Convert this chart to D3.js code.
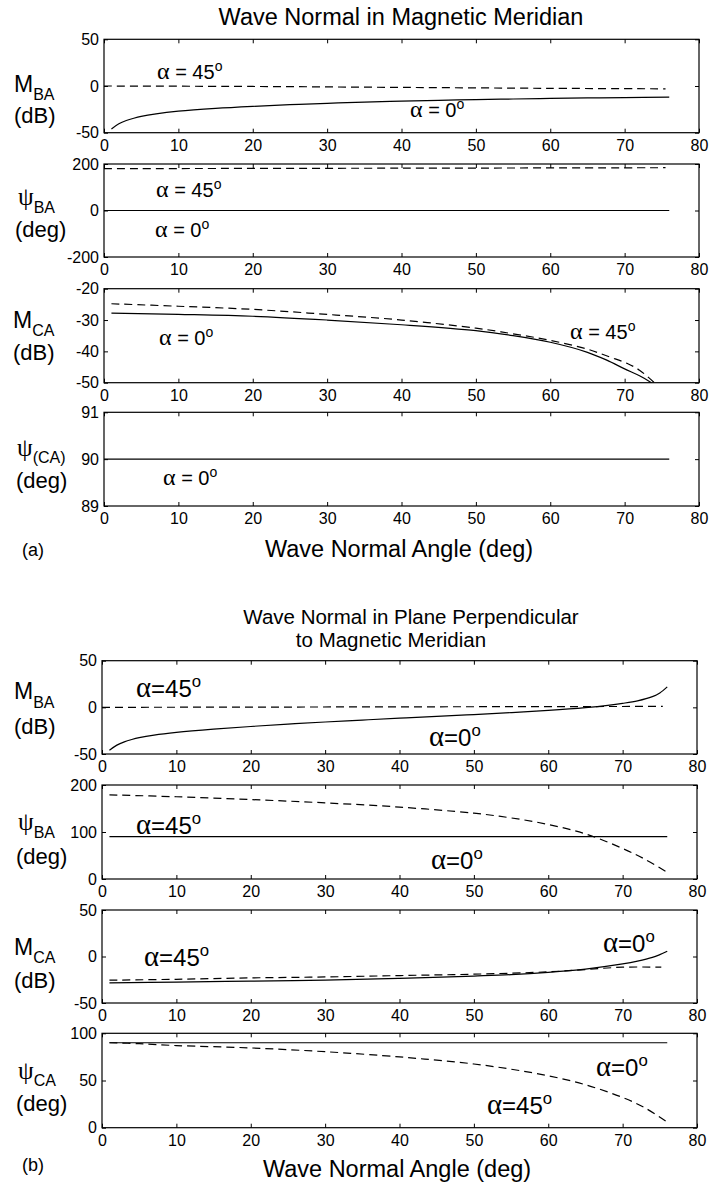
<!DOCTYPE html>
<html>
<head>
<meta charset="utf-8">
<script src="https://cdn.jsdelivr.net/npm/d3@7"></script>
<style>
  html, body { margin: 0; padding: 0; background: #fff; }
  svg { display: block; }
  text { font-family: "Liberation Sans", Arial, Helvetica, sans-serif; fill: #000; }
  .greek { font-family: "Liberation Serif", "Times New Roman", serif; }
</style>
</head>
<body>
<svg id="chart" width="709" height="1182"></svg>
<script>
// ---------------- DATA ----------------
const angleTicks = [0, 10, 20, 30, 40, 50, 60, 70, 80];
const angleDomain = [0, 80];

// (a) Wave normal in magnetic meridian
// M_BA (dB)
const aMBA0_x = [1, 2, 3, 4, 5, 7, 10, 15, 20, 25, 30, 35, 40, 45, 50, 55, 60, 65, 70, 76];
const aMBA0_y = [-46, -40.5, -37, -34.5, -32.5, -29.8, -27, -24, -21.8, -20, -18.5, -17.2, -16.2, -15.3, -14.5, -13.9, -13.3, -12.8, -12.4, -12];
const aMBA45_x = [0, 20, 40, 60, 75.5];
const aMBA45_y = [0, -0.5, -1.5, -2.5, -3];
const aMBA_ticks = [-50, 0, 50];
// psi_BA (deg)
const aPBA0_x = [0, 76];
const aPBA0_y = [0, 0];
const aPBA45_x = [0, 40, 75.5];
const aPBA45_y = [180, 182, 184];
const aPBA_ticks = [-200, 0, 200];
// M_CA (dB)
const aMCA0_x = [1, 10, 20, 30, 40, 50, 55, 60, 65, 67.6, 70, 72, 73.6];
const aMCA0_y = [-27.8, -28.2, -28.8, -30, -31.5, -33.4, -35, -37.1, -40.3, -42.8, -45.6, -47.8, -50];
const aMCA45_x = [1, 10, 20, 30, 40, 50, 55, 60, 65, 68, 70.3, 72, 74];
const aMCA45_y = [-24.8, -25.6, -26.6, -28.2, -30, -32.6, -34.4, -36.5, -39.3, -41.8, -43.8, -46, -50];
const aMCA_ticks = [-50, -40, -30, -20];
// psi_(CA) (deg)
const aPCA0_x = [0, 76];
const aPCA0_y = [90, 90];
const aPCA_ticks = [89, 90, 91];

// (b) Wave normal in plane perpendicular to magnetic meridian
// M_BA (dB)
const bMBA0_x = [1, 2, 3, 4, 5, 7, 10, 15, 20, 25, 30, 35, 40, 45, 50, 55, 60, 65, 68, 70, 72, 74, 75, 76];
const bMBA0_y = [-46, -40.5, -37, -34.5, -32.5, -29.7, -26.8, -23.3, -20.5, -18, -15.7, -13.6, -11.6, -9.7, -7.7, -5.6, -3.2, -0.2, 2.2, 4.3, 7, 11.5, 15.5, 22];
const bMBA45_x = [0, 75.4];
const bMBA45_y = [0, 1];
const bMBA_ticks = [-50, 0, 50];
// psi_BA (deg)
const bPBA45_x = [1, 76];
const bPBA45_y = [90, 90];
const bPBA0_x = [1, 10, 20, 30, 40, 50, 55, 60, 65, 70, 73, 76];
const bPBA0_y = [179, 175, 169, 162, 153, 140, 130, 116, 96, 65, 42, 14];
const bPBA_ticks = [0, 100, 200];
// M_CA (dB)
const bMCA0_x = [1, 10, 20, 30, 40, 50, 55, 60, 65, 70, 72, 74, 75, 76];
const bMCA0_y = [-28.4, -27.5, -26.5, -25.5, -23.5, -21, -19.5, -17, -13.5, -8, -5, -1, 2, 5.6];
const bMCA45_x = [1, 10, 20, 30, 40, 50, 60, 65, 70, 75.2];
const bMCA45_y = [-25.5, -24.5, -23, -22, -20.5, -19, -16.5, -14, -11.5, -11.5];
const bMCA_ticks = [-50, 0, 50];
// psi_CA (deg)
const bPCA0_x = [1, 76];
const bPCA0_y = [90, 90];
const bPCA45_x = [1, 5, 10, 20, 30, 40, 45, 50, 55, 60, 65, 70, 73, 76];
const bPCA45_y = [90, 89, 87, 84.5, 80.5, 75, 71.5, 67.5, 62, 55, 45.5, 32, 21, 6];
const bPCA_ticks = [0, 50, 100];

// Text
const titleA = "Wave Normal in Magnetic Meridian";
const titleB1 = "Wave Normal in Plane Perpendicular";
const titleB2 = "to Magnetic Meridian";
const xTitle = "Wave Normal Angle (deg)";

// ---------------- DRAWING ----------------
const svg = d3.select("#chart");
const zip = (xs, ys) => xs.map((x, i) => [x, ys[i]]);
const fmt = d => String(d);

function panel(cfg) {
  const x = d3.scaleLinear().domain(angleDomain).range([cfg.left, cfg.right]);
  const y = d3.scaleLinear().domain(d3.extent(cfg.ticks)).range([cfg.bottom, cfg.top]);
  const g = svg.append("g");

  // inward ticks: bottom, top, left, right
  g.append("g").attr("transform", `translate(0,${cfg.bottom})`)
    .call(d3.axisBottom(x).tickValues(angleTicks).tickSize(-4).tickFormat(fmt))
    .call(a => { a.select(".domain").remove(); a.selectAll("text").attr("font-size", 16).attr("dy", "0.71em").attr("y", 7); });
  g.append("g").attr("transform", `translate(0,${cfg.top})`)
    .call(d3.axisTop(x).tickValues(angleTicks).tickSize(-4).tickFormat(""))
    .call(a => a.select(".domain").remove());
  g.append("g").attr("transform", `translate(${cfg.left},0)`)
    .call(d3.axisLeft(y).tickValues(cfg.ticks).tickSize(-4).tickFormat(fmt))
    .call(a => { a.select(".domain").remove(); a.selectAll("text").attr("font-size", 16).attr("x", -5); });
  g.append("g").attr("transform", `translate(${cfg.right},0)`)
    .call(d3.axisRight(y).tickValues(cfg.ticks).tickSize(-4).tickFormat(""))
    .call(a => a.select(".domain").remove());
  g.selectAll(".tick line").attr("stroke", "#000").attr("stroke-width", 1);

  g.append("rect")
    .attr("x", cfg.left).attr("y", cfg.top)
    .attr("width", cfg.right - cfg.left).attr("height", cfg.bottom - cfg.top)
    .attr("fill", "none").attr("stroke", "#000").attr("stroke-width", 1.2);

  const line = d3.line().x(d => x(d[0])).y(d => y(d[1])).curve(d3.curveCatmullRom.alpha(0.5));
  cfg.series.forEach(s => {
    g.append("path").datum(zip(s.x, s.y))
      .attr("d", line)
      .attr("fill", "none").attr("stroke", "#000").attr("stroke-width", 1.2)
      .attr("stroke-dasharray", s.dashed ? "8,5" : null);
  });

  // annotations
  cfg.notes.forEach(n => {
    const t = g.append("text").attr("x", n.x).attr("y", n.y).attr("font-size", n.size);
    t.append("tspan").attr("class", "greek").attr("font-size", n.size * 1.2).text("α");
    t.append("tspan").text(n.text);
    t.append("tspan").attr("font-size", n.size * 0.7).attr("dy", -n.size * 0.42).text("o");
  });

  // y label
  const yl = cfg.ylab;
  const t1 = g.append("text").attr("x", yl.x).attr("y", yl.y1).attr("font-size", 23);
  t1.append("tspan").attr("class", yl.greek ? "greek" : null)
    .attr("font-size", yl.greek ? 25 : 23).text(yl.main);
  t1.append("tspan").attr("font-size", 16).attr("dy", yl.subdy).text(yl.sub);
  g.append("text").attr("x", yl.ux).attr("y", yl.y2).attr("font-size", 22).text(yl.unit);
}

// Section (a)
const aL = 104, aR = 699;
panel({ left: aL, right: aR, top: 39.3, bottom: 132.7, ticks: aMBA_ticks,
  series: [{ x: aMBA0_x, y: aMBA0_y }, { x: aMBA45_x, y: aMBA45_y, dashed: true }],
  notes: [{ x: 157, y: 79, size: 20, text: " = 45" }, { x: 410, y: 117, size: 20, text: " = 0" }],
  ylab: { x: 14, y1: 92, main: "M", sub: "BA", subdy: 8, ux: 14, y2: 123, unit: "(dB)" } });
panel({ left: aL, right: aR, top: 164, bottom: 257, ticks: aPBA_ticks,
  series: [{ x: aPBA0_x, y: aPBA0_y }, { x: aPBA45_x, y: aPBA45_y, dashed: true }],
  notes: [{ x: 156, y: 197, size: 20, text: " = 45" }, { x: 155, y: 237, size: 20, text: " = 0" }],
  ylab: { x: 18, y1: 205, main: "ψ", greek: true, sub: "BA", subdy: 8, ux: 15, y2: 237, unit: "(deg)" } });
panel({ left: aL, right: aR, top: 288.7, bottom: 382.7, ticks: aMCA_ticks,
  series: [{ x: aMCA0_x, y: aMCA0_y }, { x: aMCA45_x, y: aMCA45_y, dashed: true }],
  notes: [{ x: 159, y: 345, size: 20, text: " = 0" }, { x: 570, y: 339, size: 20, text: " = 45" }],
  ylab: { x: 13, y1: 328, main: "M", sub: "CA", subdy: 8, ux: 13, y2: 360, unit: "(dB)" } });
panel({ left: aL, right: aR, top: 412.3, bottom: 506, ticks: aPCA_ticks,
  series: [{ x: aPCA0_x, y: aPCA0_y }],
  notes: [{ x: 163, y: 485, size: 20, text: " = 0" }],
  ylab: { x: 17, y1: 456, main: "ψ", greek: true, sub: "(CA)", subdy: 7, ux: 16, y2: 488, unit: "(deg)" } });

svg.append("text").attr("x", 401).attr("y", 25).attr("text-anchor", "middle").attr("font-size", 23.5).text(titleA);
svg.append("text").attr("x", 399).attr("y", 557).attr("text-anchor", "middle").attr("font-size", 23.5).text(xTitle);
svg.append("text").attr("x", 22).attr("y", 556).attr("font-size", 18).text("(a)");

// Section (b)
const bL = 102, bR = 697;
panel({ left: bL, right: bR, top: 660.7, bottom: 754, ticks: bMBA_ticks,
  series: [{ x: bMBA0_x, y: bMBA0_y }, { x: bMBA45_x, y: bMBA45_y, dashed: true }],
  notes: [{ x: 136, y: 697, size: 24, text: "=45" }, { x: 429, y: 746, size: 24, text: "=0" }],
  ylab: { x: 14, y1: 699, main: "M", sub: "BA", subdy: 9, ux: 14, y2: 734, unit: "(dB)" } });
panel({ left: bL, right: bR, top: 785, bottom: 879, ticks: bPBA_ticks,
  series: [{ x: bPBA45_x, y: bPBA45_y }, { x: bPBA0_x, y: bPBA0_y, dashed: true }],
  notes: [{ x: 136, y: 834, size: 24, text: "=45" }, { x: 431, y: 869, size: 24, text: "=0" }],
  ylab: { x: 18, y1: 830, main: "ψ", greek: true, sub: "BA", subdy: 8, ux: 16, y2: 864, unit: "(deg)" } });
panel({ left: bL, right: bR, top: 910, bottom: 1003, ticks: bMCA_ticks,
  series: [{ x: bMCA0_x, y: bMCA0_y }, { x: bMCA45_x, y: bMCA45_y, dashed: true }],
  notes: [{ x: 144, y: 966, size: 24, text: "=45" }, { x: 603, y: 952, size: 24, text: "=0" }],
  ylab: { x: 14, y1: 955, main: "M", sub: "CA", subdy: 8, ux: 14, y2: 988, unit: "(dB)" } });
panel({ left: bL, right: bR, top: 1033.3, bottom: 1127.7, ticks: bPCA_ticks,
  series: [{ x: bPCA0_x, y: bPCA0_y }, { x: bPCA45_x, y: bPCA45_y, dashed: true }],
  notes: [{ x: 596, y: 1076, size: 24, text: "=0" }, { x: 487, y: 1114, size: 24, text: "=45" }],
  ylab: { x: 18, y1: 1079, main: "ψ", greek: true, sub: "CA", subdy: 7, ux: 16, y2: 1111, unit: "(deg)" } });

svg.append("text").attr("x", 411).attr("y", 624).attr("text-anchor", "middle").attr("font-size", 20.5).text(titleB1);
svg.append("text").attr("x", 391).attr("y", 647).attr("text-anchor", "middle").attr("font-size", 20.5).text(titleB2);
svg.append("text").attr("x", 397).attr("y", 1177).attr("text-anchor", "middle").attr("font-size", 23.5).text(xTitle);
svg.append("text").attr("x", 22).attr("y", 1171).attr("font-size", 18).text("(b)");
</script>
</body>
</html>
